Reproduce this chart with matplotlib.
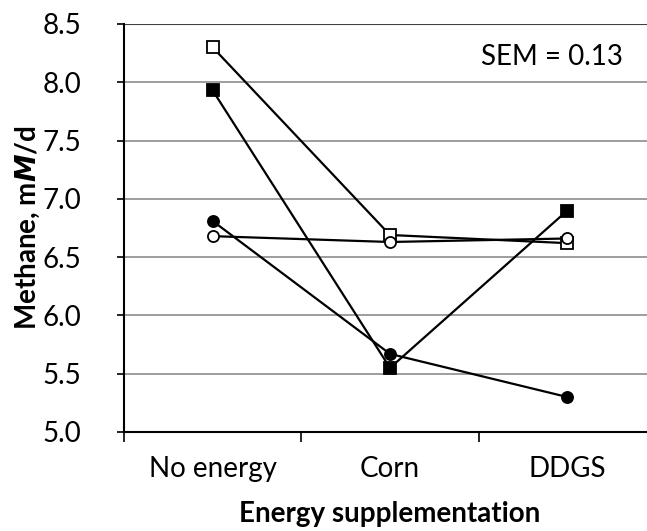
import numpy as np
import matplotlib.pyplot as plt

plt.rcParams['font.family'] = ['Lato', 'DejaVu Sans']
plt.rcParams['mathtext.fontset'] = 'custom'
plt.rcParams['mathtext.it'] = 'DejaVu Sans:italic:bold'
plt.rcParams['mathtext.rm'] = 'Lato:bold'

groups = ["No energy", "Corn", "DDGS"]
open_sq = [8.30, 6.69, 6.62]
filled_sq = [7.93, 5.55, 6.90]
filled_ci = [6.81, 5.67, 5.30]
open_ci = [6.68, 6.63, 6.66]

x = np.arange(len(groups))
fs = 20

fig = plt.figure(figsize=(6.47, 5.31), dpi=100)
ax = fig.add_axes([124/647, 99/531, 532/647, 408/531])

for yv in np.arange(5.5, 8.51, 0.5):
    ax.axhline(yv, color='#8c8c8c', lw=1.2, zorder=0)
ax.axhline(8.5, color='#404040', lw=1.5, zorder=0)

style = dict(color='black', lw=1.6, markersize=8, markeredgewidth=1.3, clip_on=False)
ax.plot(x, open_sq, marker='s', mfc='white', mec='black', **style)
ax.plot(x, filled_sq, marker='s', mfc='black', mec='black', **style)
ax.plot(x, filled_ci, marker='o', mfc='black', mec='black', **style)
ax.plot(x, open_ci, marker='o', mfc='white', mec='black', **style)

ax.set_xlim(-0.5, 2.5)
ax.set_ylim(5.0, 8.5)
ax.set_yticks(np.arange(5.0, 8.51, 0.5))
ax.set_yticklabels(['%.1f' % v for v in np.arange(5.0, 8.51, 0.5)], fontsize=fs)
ax.set_xticks([-0.5, 0.5, 1.5])
ax.set_xticklabels([])
ax.set_xticks(x, minor=True)
ax.set_xticklabels(groups, minor=True, fontsize=fs)
ax.tick_params(axis='x', which='major', direction='out', length=7, width=1.2)
ax.tick_params(axis='x', which='minor', length=0, pad=17)
ax.tick_params(axis='y', direction='out', length=5, width=1.2, pad=26)

for s in ['top', 'right']:
    ax.spines[s].set_visible(False)
ax.spines['left'].set_linewidth(1.5)
ax.spines['bottom'].set_linewidth(1.5)

ax.set_ylabel(r'Methane, m$\mathit{M}$/d', fontsize=fs, fontweight='bold', labelpad=0)
ax.set_xlabel('Energy supplementation', fontsize=fs, fontweight='bold', labelpad=14)

fig.text(623/647, 1 - 57/531, 'SEM = 0.13', fontsize=fs, ha='right', va='center')

fig.savefig('out.png', dpi=100)
